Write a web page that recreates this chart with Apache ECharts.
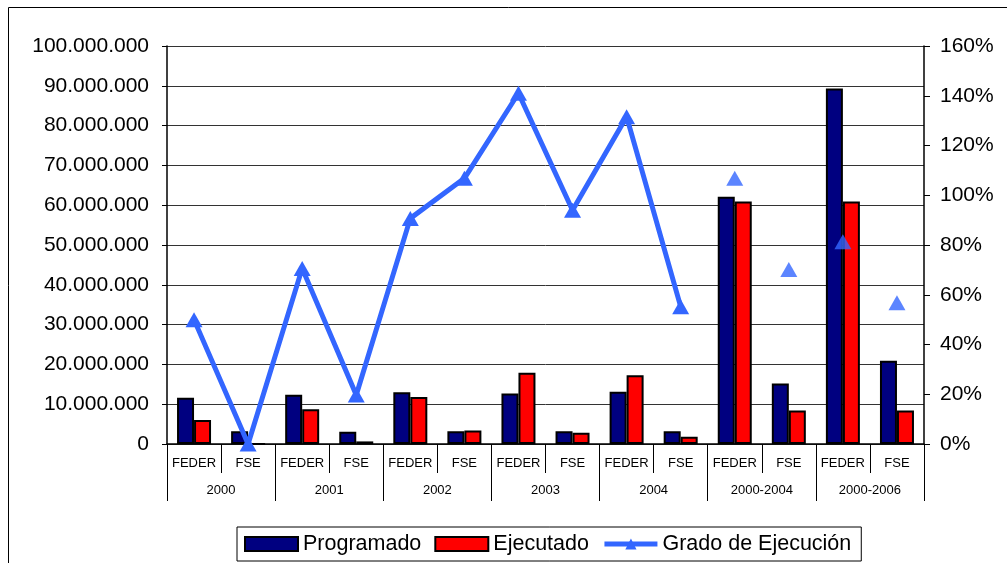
<!DOCTYPE html>
<html>
<head>
<meta charset="utf-8">
<script src="https://cdn.jsdelivr.net/npm/echarts@6/dist/echarts.min.js"></script>
<style>
  html, body { margin: 0; padding: 0; background: #fff; }
  #chart { width: 1007px; height: 563px; }
</style>
</head>
<body>
<div id="chart"></div>
<script>
// categorias (nivel inferior y grupos)
const fondos = ['FEDER', 'FSE', 'FEDER', 'FSE', 'FEDER', 'FSE', 'FEDER', 'FSE', 'FEDER', 'FSE', 'FEDER', 'FSE', 'FEDER', 'FSE'];
const periodos = ['2000', '2001', '2002', '2003', '2004', '2000-2004', '2000-2006'];

// importes en euros
const programado = [11600000, 3200000, 12400000, 3100000, 13000000, 3200000, 12700000, 3200000, 13100000, 3200000, 62100000, 15200000, 89300000, 20900000];
const ejecutado = [6000000, 0, 8700000, 650000, 11800000, 3400000, 17900000, 2850000, 17300000, 1800000, 60900000, 8400000, 60900000, 8400000];

// grado de ejecucion (%): anual unido por linea, acumulados como puntos sueltos
const gradoAnual = [50, 0, 70.6, 19.7, 90.7, 106.8, 141, 94, 131.6, 55.2, null, null, null, null];
const gradoAcumulado = [null, null, null, null, null, null, null, null, null, null, 106.8, 70.2, 81.3, 56.8];

const fmtMiles = (v) => String(v).replace(/\B(?=(\d{3})+(?!\d))/g, '.');

const chart = echarts.init(document.getElementById('chart'));
const option = {
  animation: false,
  textStyle: { fontFamily: 'Liberation Sans, Arial, sans-serif', color: '#000' },
  graphic: [
    {
      type: 'rect',
      shape: { x: 8.5, y: 7.5, width: 1200, height: 800 },
      style: { fill: 'none', stroke: '#000', lineWidth: 1 },
      silent: true,
    },
  ],
  grid: { left: 167, right: 83, top: 46, bottom: 119 },
  legend: {
    left: 237,
    top: 527,
    data: [
      { name: 'Programado', icon: 'rect' },
      { name: 'Ejecutado', icon: 'rect' },
      { name: 'Grado de Ejecución', lineStyle: { width: 5 } },
    ],
    itemWidth: 53,
    itemHeight: 14,
    itemGap: 13,
    padding: [6, 10, 6, 7],
    borderColor: '#000',
    borderWidth: 1,
    textStyle: { fontSize: 21.5, color: '#000' },
  },
  xAxis: [
    {
      type: 'category',
      data: fondos,
      axisLine: { lineStyle: { color: '#000', width: 1.5 } },
      axisTick: { show: true, interval: 0, length: 29, lineStyle: { color: '#000', width: 1 } },
      axisLabel: { interval: 0, fontSize: 13, color: '#000', margin: 13 },
    },
    {
      type: 'category',
      data: periodos,
      position: 'bottom',
      axisLine: { show: false },
      axisTick: { show: true, interval: 0, length: 57, lineStyle: { color: '#000', width: 1 } },
      axisLabel: { interval: 0, fontSize: 13, color: '#000', margin: 40 },
    },
  ],
  yAxis: [
    {
      type: 'value',
      min: 0,
      max: 100000000,
      interval: 10000000,
      axisLine: { show: true, lineStyle: { color: '#000', width: 1.5 } },
      axisTick: { show: true, length: 5, lineStyle: { color: '#000' } },
      axisLabel: { fontSize: 21, color: '#000', margin: 18, formatter: fmtMiles },
      splitLine: { lineStyle: { color: '#333', width: 1 } },
    },
    {
      type: 'value',
      min: 0,
      max: 160,
      interval: 20,
      axisLine: { show: true, lineStyle: { color: '#000', width: 1.5 } },
      axisTick: { show: true, length: 6, lineStyle: { color: '#000' } },
      axisLabel: { fontSize: 21, color: '#000', margin: 16, formatter: '{value}%' },
      splitLine: { show: false },
    },
  ],
  series: [
    {
      name: 'Programado',
      type: 'bar',
      data: programado,
      barWidth: 17,
      barGap: '0%',
      itemStyle: { color: '#000080', borderColor: '#000', borderWidth: 2 },
    },
    {
      name: 'Ejecutado',
      type: 'bar',
      data: ejecutado,
      barWidth: 17,
      barGap: '0%',
      itemStyle: { color: '#FF0000', borderColor: '#000', borderWidth: 2 },
    },
    {
      name: 'Grado de Ejecución',
      type: 'line',
      yAxisIndex: 1,
      data: gradoAnual,
      connectNulls: false,
      symbol: 'triangle',
      symbolSize: [17, 15],
      showAllSymbol: true,
      lineStyle: { color: '#3366FF', width: 5 },
      itemStyle: { color: '#3366FF' },
      z: 5,
    },
    {
      name: 'Grado de Ejecución',
      type: 'scatter',
      yAxisIndex: 1,
      data: gradoAcumulado,
      symbol: 'triangle',
      symbolSize: [17, 15],
      itemStyle: { color: '#3366FF' },
      z: 5,
    },
  ],
};
chart.setOption(option);
</script>
</body>
</html>
